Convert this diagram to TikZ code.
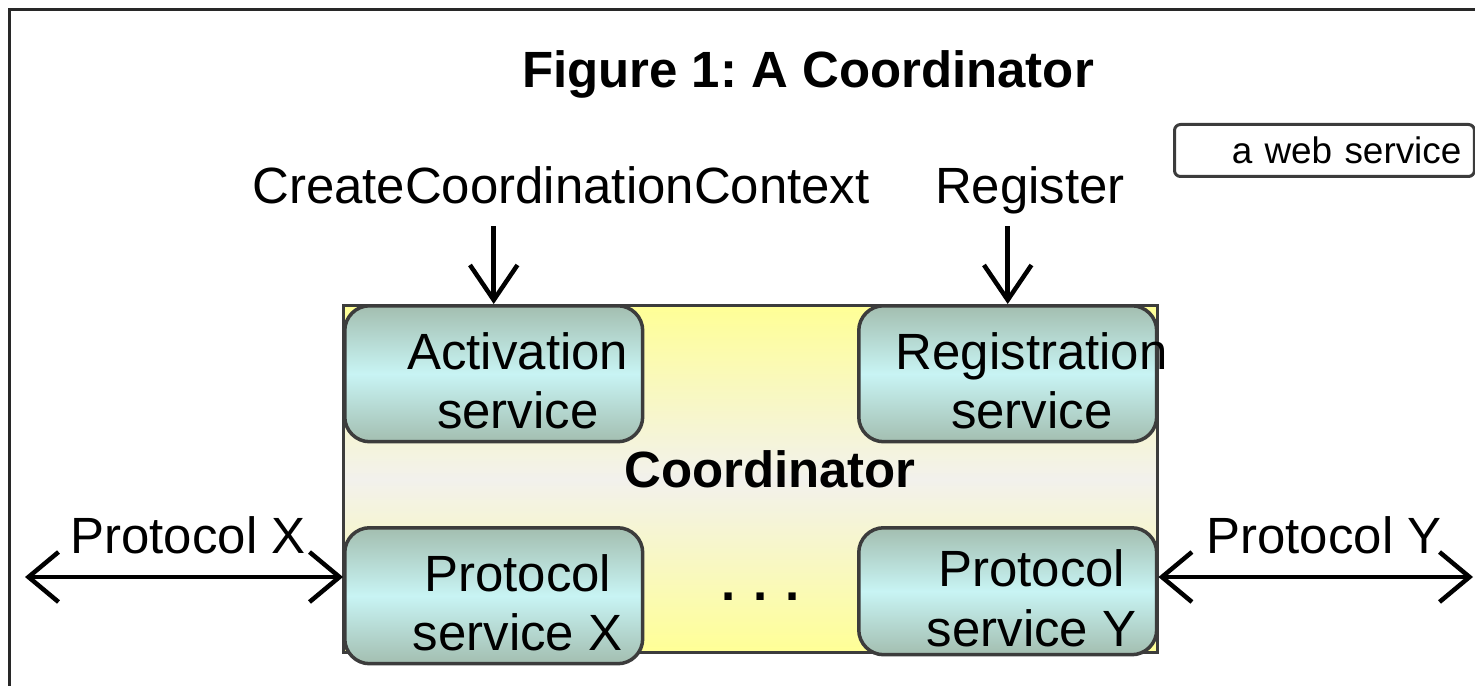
\documentclass[tikz,border=0pt]{standalone}
\usepackage{fontspec}
\setmainfont{Liberation Sans}
\usetikzlibrary{arrows.meta}
\frenchspacing

\definecolor{rahmengrau}{RGB}{40,40,40}
\definecolor{koordgelb}{RGB}{255,255,150}
\definecolor{koordmitte}{RGB}{242,241,236}
\definecolor{dienstrand}{RGB}{163,190,176}
\definecolor{dienstmitte}{RGB}{200,244,244}
\definecolor{kantengrau}{RGB}{60,60,60}

\tikzset{
  dienst/.style={draw=kantengrau, line width=0.07cm, rounded corners=0.5cm,
    top color=dienstrand, bottom color=dienstrand, middle color=dienstmitte,
    minimum width=5.96cm, minimum height=2.72cm, anchor=north west, inner sep=0pt},
  diensttext/.style={font=\fontsize{29}{34}\selectfont, align=center,
    xshift=0.48cm, yshift=-0.14cm},
  grosstext/.style={font=\fontsize{29}{34}\selectfont, anchor=base},
  pfeil/.style={line width=0.09cm, -{Straight Barb[length=0.7cm, width=0.95cm]}},
  doppelpfeil/.style={line width=0.09cm,
    {Straight Barb[length=0.6cm, width=1cm]}-{Straight Barb[length=0.6cm, width=1cm]}}
}

\begin{document}
\begin{tikzpicture}[x=0.02cm, y=-0.02cm]
			\useasboundingbox (0,0) rectangle (1475,686);

			% Rahmen
			\draw[line width=0.06cm, rahmengrau] (9.5,700) -- (9.5,9.5) -- (1490,9.5);

			% Titel
			\node[grosstext, font=\fontsize{29}{34}\selectfont\bfseries] (titel) at (808,88) {Figure 1: A Coordinator};

			% Legende
			\node[draw=kantengrau, line width=0.06cm, rounded corners=0.12cm, fill=white,
				anchor=north west, minimum width=6cm, minimum height=1.04cm, text width=5.48cm,
				inner xsep=0.26cm, align=right, font=\fontsize{21}{25}\selectfont] (legende) at (1173,123) {a web service};

			% Coordinator
			\node[draw=kantengrau, line width=0.06cm, top color=koordgelb, bottom color=koordgelb,
				middle color=koordmitte, minimum width=16.3cm, minimum height=6.96cm, inner sep=0pt] (koord) at (750.5,479) {};
			\node[grosstext, font=\fontsize{29}{34}\selectfont\bfseries] (koordtext) at (770,487) {Coordinator};

			% Dienste
			\node[dienst] (akt) at (343,304) {};
			\node[dienst] (reg) at (857,304) {};
			\node[dienst] (protx) at (343,526) {};
			\node[dienst, minimum height=2.54cm] (proty) at (857,526) {};
			\node[diensttext] (akttext) at (akt.center) {Activation\\service};
			\node[diensttext] (regtext) at (reg.center) {Registration\\service};
			\node[diensttext] (protxtext) at (protx.center) {Protocol\\service X};
			\node[diensttext] (protytext) at (proty.center) {Protocol\\service Y};
			\node[grosstext, font=\fontsize{29}{34}\selectfont\bfseries] (punkte) at (761,600) {.\hspace{0.35em}.\hspace{0.35em}.};

			% Aufrufe
			\node[grosstext] (ccc) at (561,203) {CreateCoordinationContext};
			\node[grosstext] (register) at (1030,203) {Register};
			\coordinate (cccfuss) at ([yshift=1.56cm]akt.north);
			\coordinate (regfuss) at ([yshift=1.56cm]reg.north);
			\draw[pfeil] (cccfuss) -- (akt.north);
			\draw[pfeil] (regfuss) -- (reg.north);

			% Protokolle
			\node[grosstext] (px) at (188,553) {Protocol X};
			\node[grosstext] (py) at (1324,553) {Protocol Y};
			\coordinate (pxende) at (25,577);
			\coordinate (pyende) at (1473,577);
			\draw[doppelpfeil] (pxende) -- (pxende -| protx.west);
			\draw[doppelpfeil] (proty.east |- pyende) -- (pyende);

		\end{tikzpicture}
\end{document}
